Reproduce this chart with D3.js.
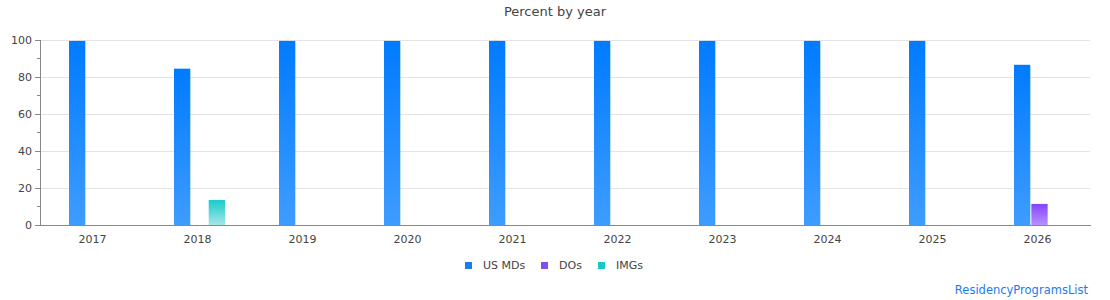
<!DOCTYPE html>
<html>
<head>
<meta charset="utf-8">
<script src="https://cdn.jsdelivr.net/npm/d3@7"></script>
<style>
  body { margin: 0; background: #fff; font-family: "DejaVu Sans", sans-serif; }
  svg text { fill: #444; }
</style>
</head>
<body>
<svg id="chart" width="1110" height="300"></svg>
<script>
// data
const years = ["2017","2018","2019","2020","2021","2022","2023","2024","2025","2026"];
const seriesNames = ["US MDs", "DOs", "IMGs"];
const usMDs = [99.5, 84.5, 99.5, 99.5, 99.5, 99.5, 99.5, 99.5, 99.5, 86.6];
const dos   = [0, 0, 0, 0, 0, 0, 0, 0, 0, 11.4];
const imgs  = [0, 13.5, 0, 0, 0, 0, 0, 0, 0, 0];
const yTicks = [0, 20, 40, 60, 80, 100];

const colors = {
  "US MDs": ["#007bff", "#3f9cff"],
  "DOs":    ["#8444ff", "#b890ff"],
  "IMGs":   ["#17cccc", "#a8e6e6"]
};
const legendColors = { "US MDs": "#1a7cf0", "DOs": "#7e4ff0", "IMGs": "#1ac8c8" };

const svg = d3.select("svg#chart");
const plotLeft = 40, plotRight = 1090, plotTop = 40, plotBottom = 225;

const x0 = d3.scaleBand().domain(years).range([plotLeft, plotRight]).padding(0);
const x1 = d3.scaleBand().domain(seriesNames).range([29, 80]).paddingInner(0.06);
const y = d3.scaleLinear().domain([0, 100]).range([plotBottom, plotTop]);

// gradients
const defs = svg.append("defs");
seriesNames.forEach(function(s, i) {
  const g = defs.append("linearGradient")
    .attr("id", "grad" + i)
    .attr("x1", 0).attr("y1", 0).attr("x2", 0).attr("y2", 1);
  g.append("stop").attr("offset", "0%").attr("stop-color", colors[s][0]);
  g.append("stop").attr("offset", "100%").attr("stop-color", colors[s][1]);
});

// title
svg.append("text")
  .attr("x", 555).attr("y", 16)
  .attr("text-anchor", "middle")
  .style("font-size", "13px")
  .text("Percent by year");

// grid
svg.append("g").selectAll("line")
  .data(yTicks.filter(function(d) { return d > 0; }))
  .enter().append("line")
    .attr("x1", plotLeft).attr("x2", plotRight)
    .attr("y1", function(d) { return y(d); })
    .attr("y2", function(d) { return y(d); })
    .attr("stroke", "#e3e3e3")
    .attr("shape-rendering", "crispEdges");

// minor ticks
svg.append("g").selectAll("line")
  .data(d3.range(10, 100, 20))
  .enter().append("line")
    .attr("x1", plotLeft - 3).attr("x2", plotLeft)
    .attr("y1", function(d) { return y(d); })
    .attr("y2", function(d) { return y(d); })
    .attr("stroke", "#888")
    .attr("shape-rendering", "crispEdges");

// y axis
const yAxis = svg.append("g")
  .attr("transform", "translate(" + plotLeft + ",0)")
  .call(d3.axisLeft(y).tickValues(yTicks).tickSize(5).tickPadding(3));
yAxis.selectAll("path, line").attr("stroke", "#888").attr("shape-rendering", "crispEdges");
yAxis.selectAll("text").style("font-size", "11px").style("font-family", "DejaVu Sans").attr("fill", "#444");

// bars
const rows = years.map(function(yr, i) {
  return { year: yr, values: [usMDs[i], dos[i], imgs[i]] };
});

svg.append("g").selectAll("g")
  .data(rows)
  .enter().append("g")
    .attr("transform", function(d) { return "translate(" + x0(d.year) + ",0)"; })
  .selectAll("rect")
  .data(function(d) {
    return d.values
      .map(function(v, i) { return { key: seriesNames[i], idx: i, value: v }; })
      .filter(function(e) { return e.value > 0; });
  })
  .enter().append("rect")
    .attr("x", function(d) { return x1(d.key); })
    .attr("width", x1.bandwidth())
    .attr("y", function(d) { return y(d.value); })
    .attr("height", function(d) { return plotBottom - y(d.value); })
    .attr("fill", function(d) { return "url(#grad" + d.idx + ")"; });

// x axis
const xAxis = svg.append("g")
  .attr("transform", "translate(0," + plotBottom + ")")
  .call(d3.axisBottom(x0).tickSize(0).tickPadding(10));
xAxis.select("path").attr("stroke", "#888").attr("shape-rendering", "crispEdges");
xAxis.selectAll("text").style("font-size", "11px").style("font-family", "DejaVu Sans").attr("fill", "#444");

// legend
const legendX = [465, 541, 598];
const legend = svg.append("g").selectAll("g")
  .data(seriesNames)
  .enter().append("g")
    .attr("transform", function(d, i) { return "translate(" + legendX[i] + ",262)"; });
legend.append("rect")
  .attr("width", 7).attr("height", 7)
  .attr("fill", function(d) { return legendColors[d]; });
legend.append("text")
  .attr("x", 18).attr("y", 7)
  .style("font-size", "11px")
  .text(function(d) { return d; });

// credit
svg.append("text")
  .attr("x", 1088).attr("y", 294)
  .attr("text-anchor", "end")
  .style("font-size", "11.5px")
  .style("fill", "#1a7cf0")
  .text("ResidencyProgramsList");
</script>
</body>
</html>
